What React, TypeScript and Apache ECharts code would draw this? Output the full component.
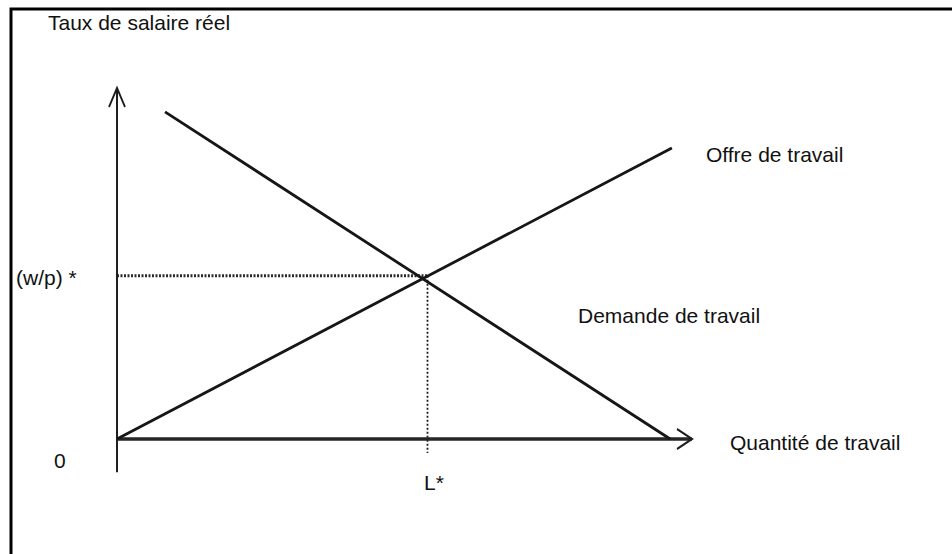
import React, { useEffect, useRef } from "react";
import * as echarts from "echarts";

// Values (abstract units: quantity 0..100, wage -10..100)
const supplyCurve: [number, number][] = [[0, 0], [96.5, 82.9]];
const demandCurve: [number, number][] = [[8.35, 93.2], [96.2, 0]];
const quantityAxis: [number, number][] = [[0, 0], [100, 0]];
const wageAxis: [number, number][] = [[0, -9.5], [0, 100]];
const equilibriumL = 54;
const equilibriumW = 46.5;
const dropBelowAxis = -4;

const axisTitles = ["Taux de salaire réel", "Quantité de travail"];
const curveLabels = ["Offre de travail", "Demande de travail"];
const tickLabels = ["(w/p) *", "0", "L*"];

const FONT = '21px "Liberation Sans", Arial, sans-serif';
const TXT = "#111111";

const arrowUp = "path://M0,19 L8,0 L16,19";
const arrowRight = "path://M0,0 L15,10 L0,20";

export default function App() {
  const ref = useRef<HTMLDivElement>(null);

  useEffect(() => {
    if (!ref.current) return;
    const chart = echarts.init(ref.current, null, { renderer: "svg" });

    const text = (t: string, x: number, y: number, align = "left") => ({
      type: "text",
      x,
      y,
      silent: true,
      style: { text: t, font: FONT, fill: TXT, align, verticalAlign: "middle" },
    });

    const arrowItemStyle = {
      color: "rgba(0,0,0,0)",
      borderColor: "#1e1e1e",
      borderWidth: 2,
    };

    chart.setOption({
      animation: false,
      backgroundColor: "#ffffff",
      grid: { left: 117, top: 88, width: 575, height: 386.1, containLabel: false },
      xAxis: { type: "value", min: 0, max: 100, show: false },
      yAxis: { type: "value", min: -10, max: 100, show: false },
      series: [
        {
          name: "axis-y",
          type: "line",
          symbol: "none",
          lineStyle: { color: "#1e1e1e", width: 2 },
          itemStyle: arrowItemStyle,
          data: [
            { value: wageAxis[0], symbol: "none" },
            {
              value: wageAxis[1],
              symbol: arrowUp,
              symbolSize: [16, 19],
              symbolOffset: [0, "50%"],
            },
          ],
          z: 3,
        },
        {
          name: "axis-x",
          type: "line",
          symbol: "none",
          lineStyle: { color: "#262626", width: 3.5 },
          itemStyle: arrowItemStyle,
          data: [
            { value: quantityAxis[0], symbol: "none" },
            {
              value: quantityAxis[1],
              symbol: arrowRight,
              symbolSize: [15, 20],
              symbolOffset: ["-50%", 0],
            },
          ],
          z: 3,
        },
        {
          name: "Offre de travail",
          type: "line",
          symbol: "none",
          lineStyle: { color: "#161616", width: 2.8 },
          data: supplyCurve,
          z: 4,
        },
        {
          name: "Demande de travail",
          type: "line",
          symbol: "none",
          lineStyle: { color: "#161616", width: 2.8 },
          data: demandCurve,
          z: 4,
        },
        {
          name: "w-star",
          type: "line",
          symbol: "none",
          lineStyle: { color: "#2a2a2a", width: 3, type: [2, 1.5] },
          data: [
            [0, equilibriumW],
            [equilibriumL, equilibriumW],
          ],
          z: 2,
        },
        {
          name: "l-star",
          type: "line",
          symbol: "none",
          lineStyle: { color: "#1e1e1e", width: 1.8, type: [2, 2] },
          data: [
            [equilibriumL, equilibriumW],
            [equilibriumL, dropBelowAxis],
          ],
          z: 2,
        },
      ],
      graphic: [
        {
          type: "rect",
          silent: true,
          shape: { x: 11, y: 9, width: 1000, height: 600 },
          style: { fill: "none", stroke: "#000", lineWidth: 3 },
        },
        text(axisTitles[0], 48, 22),
        text(axisTitles[1], 730, 442),
        text(curveLabels[0], 706, 154),
        text(curveLabels[1], 578, 315),
        text(tickLabels[0], 16, 277),
        text(tickLabels[1], 54, 460),
        text(tickLabels[2], 424, 482),
      ],
    });

    return () => chart.dispose();
  }, []);

  return (
    <div
      ref={ref}
      style={{ position: "fixed", left: 0, top: 0, width: 952, height: 554, background: "#fff" }}
    />
  );
}
